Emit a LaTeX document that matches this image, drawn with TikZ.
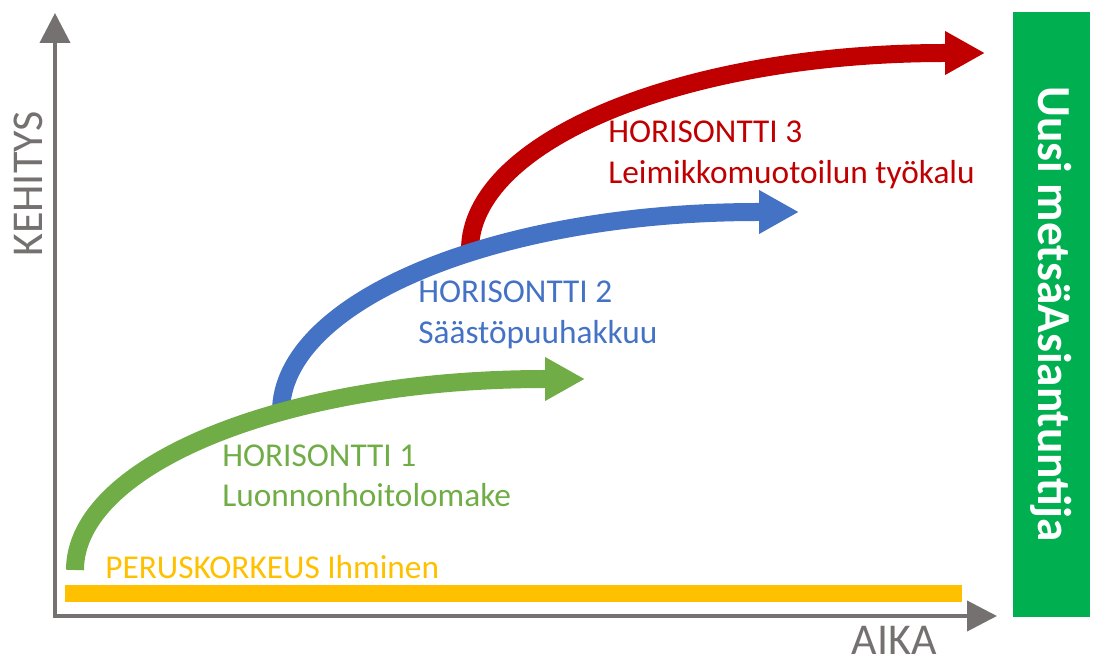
\documentclass[tikz,border=0pt]{standalone}
\usepackage{fontspec}
\setmainfont{Carlito}
\usetikzlibrary{arrows.meta}
\definecolor{axisgray}{HTML}{767171}
\definecolor{hgreen}{HTML}{70AD47}
\definecolor{hblue}{HTML}{4472C4}
\definecolor{hred}{HTML}{C00000}
\definecolor{hyellow}{HTML}{FFC000}
\definecolor{boxgreen}{HTML}{00B050}
\tikzset{
  axisline/.style={draw=axisgray, line width=3pt, line join=miter,
    {Triangle[length=22.5pt 0, width=22.5pt 0]}-{Triangle[length=22.5pt 0, width=22.5pt 0]}},
  horizon/.style={line width=13.5pt, -{Triangle[length=30pt 0, width=30.75pt 0]}},
  lbl/.style={inner sep=0pt, anchor=base west, font=\fontsize{25}{30}\selectfont},
  axlbl/.style={inner sep=0pt, text=axisgray, font=\fontsize{33}{40}\selectfont},
}
\begin{document}
\begin{tikzpicture}[x=0.75pt,y=0.75pt]
\useasboundingbox (0,0) rectangle (1093,661);
% green box
\fill[boxgreen] (1013,44) rectangle (1090,649);
\node[inner sep=0pt, rotate=-90, anchor=base, text=white, font=\bfseries\fontsize{35.5}{42}\selectfont] (uusi) at (1038,347) {Uusi metsäAsiantuntija};
% yellow base bar
\fill[hyellow] (65,59) rectangle (962,76);
\node[lbl, text=hyellow] (perus) at (105,83) {PERUSKORKEUS Ihminen};
% axes
\coordinate (vtip) at (55,648);
\coordinate (htip) at (997,45);
\draw[axisline] (vtip) |- (htip);
\node[axlbl, rotate=90] (kehitys) at (28,477) {KEHITYS};
\node[axlbl, anchor=base] (aika) at (894,7) {AIKA};
% horizon arrows
\coordinate (s3) at (470,411);
\coordinate (s2) at (281,249);
\coordinate (s1) at (75,91);
\draw[horizon, hred] (s3) arc[start angle=180, end angle=90, x radius=475, y radius=197] -- ++(40,0);
\draw[horizon, hblue] (s2) arc[start angle=180, end angle=90, x radius=477, y radius=200] -- ++(41,0);
\draw[horizon, hgreen] (s1) arc[start angle=180, end angle=90, x radius=470, y radius=191] -- ++(40,0);
% labels
\node[lbl, text=hgreen] (h1a) at (222,194) {HORISONTTI 1};
\node[lbl, text=hgreen] (h1b) at (222,154) {Luonnonhoitolomake};
\node[lbl, text=hblue] (h2a) at (418,358) {HORISONTTI 2};
\node[lbl, text=hblue] (h2b) at (418,317) {Säästöpuuhakkuu};
\node[lbl, text=hred] (h3a) at (608,518) {HORISONTTI 3};
\node[lbl, text=hred] (h3b) at (608,477) {Leimikkomuotoilun työkalu};
\end{tikzpicture}
\end{document}
